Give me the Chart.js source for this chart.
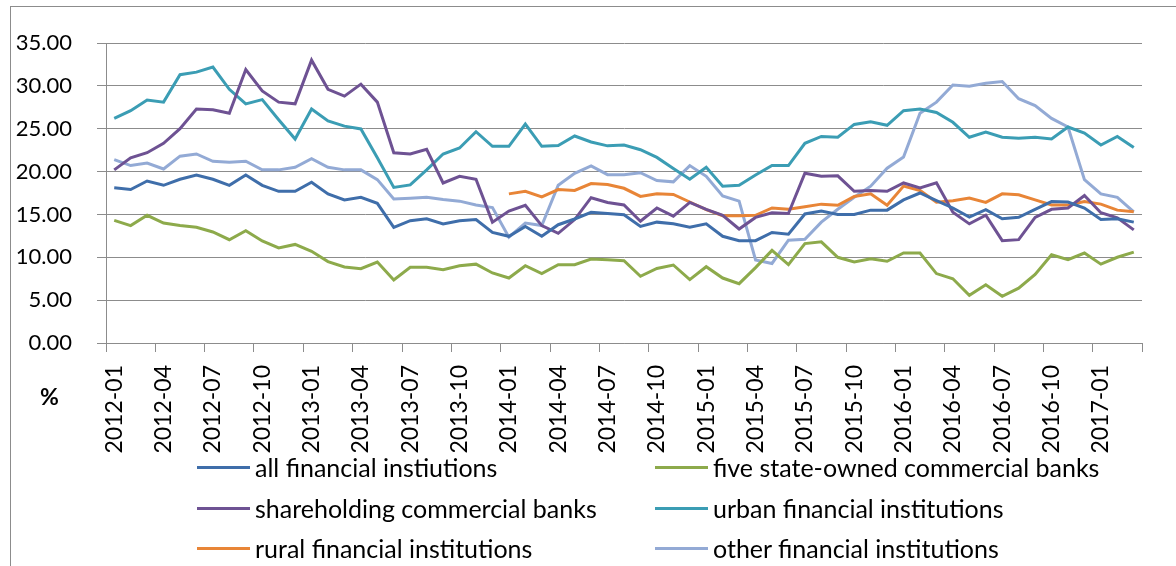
<!DOCTYPE html>
<html>
<head>
<meta charset="utf-8">
<script src="https://cdn.jsdelivr.net/npm/chart.js@4"></script>
<style>
  html, body { margin: 0; padding: 0; background: #fff; overflow: hidden; }
  #wrap { position: relative; width: 1176px; height: 566px; font-family: Lato, sans-serif; }
  #frame { position: absolute; left: 10px; top: 6px; width: 1200px; height: 600px;
           border-left: 1px solid #8c8c8c; border-top: 1px solid #8c8c8c; pointer-events: none; }
  #unit { position: absolute; left: 40px; top: 382px; font-size: 23px; font-weight: bold; color: #000; }
  .lg { position: absolute; display: flex; align-items: center; font-size: 25px; color: #000; white-space: nowrap; }
  .lg span.sw { display: inline-block; width: 53px; height: 3px; margin-right: 5px; }
</style>
</head>
<body>
<div id="wrap">
  <canvas id="myChart" width="1176" height="566"></canvas>
  <div id="frame"></div>
  <div id="unit">%</div>
  <div id="legend"></div>
</div>
<script>
// months 2012-01 .. 2017-03
const labels = [];
for (let y = 2012; y <= 2017; y++) {
    for (let m = 1; m <= 12; m++) {
        if (y === 2017 && m > 3) break;
        labels.push(y + '-' + String(m).padStart(2, '0'));
    }
}

const allFinancial = [18.1, 17.9, 18.9, 18.4, 19.1, 19.6, 19.1, 18.4, 19.6, 18.4, 17.7, 17.7, 18.75, 17.4, 16.7, 17.0, 16.3, 13.5, 14.27, 14.5, 13.9, 14.27, 14.4, 12.9, 12.45, 13.6, 12.45, 13.8, 14.47, 15.25, 15.1, 14.97, 13.6, 14.1, 13.9, 13.5, 13.9, 12.45, 11.94, 11.94, 12.9, 12.7, 15.05, 15.4, 15.0, 15.0, 15.5, 15.5, 16.7, 17.5, 16.6, 15.75, 14.7, 15.56, 14.5, 14.66, 15.6, 16.5, 16.45, 15.75, 14.4, 14.5, 14.1];
const fiveStateOwned = [14.3, 13.7, 14.9, 14.0, 13.7, 13.5, 12.95, 12.05, 13.1, 11.9, 11.1, 11.5, 10.7, 9.5, 8.87, 8.67, 9.45, 7.35, 8.83, 8.83, 8.56, 9.02, 9.2, 8.17, 7.58, 9.02, 8.1, 9.14, 9.14, 9.8, 9.72, 9.6, 7.78, 8.7, 9.1, 7.4, 8.9, 7.58, 6.92, 8.8, 10.8, 9.14, 11.6, 11.8, 10.0, 9.45, 9.84, 9.53, 10.5, 10.5, 8.1, 7.5, 5.56, 6.8, 5.45, 6.4, 8.0, 10.3, 9.72, 10.5, 9.2, 10.0, 10.6];
const shareholding = [20.2, 21.6, 22.2, 23.3, 25.0, 27.3, 27.2, 26.8, 31.9, 29.4, 28.1, 27.9, 33.0, 29.6, 28.8, 30.2, 28.1, 22.2, 22.05, 22.6, 18.67, 19.45, 19.1, 14.1, 15.4, 16.06, 13.7, 12.8, 14.4, 16.95, 16.4, 16.1, 14.2, 15.75, 14.8, 16.4, 15.6, 14.9, 13.3, 14.65, 15.2, 15.1, 19.8, 19.45, 19.5, 17.7, 17.8, 17.7, 18.67, 18.1, 18.7, 15.25, 13.9, 14.9, 11.94, 12.06, 14.66, 15.6, 15.75, 17.2, 15.2, 14.6, 13.2];
const urban = [26.2, 27.1, 28.35, 28.1, 31.3, 31.6, 32.2, 29.6, 27.9, 28.4, 26.05, 23.8, 27.3, 25.9, 25.3, 24.97, 21.6, 18.15, 18.45, 20.2, 22.05, 22.75, 24.65, 22.95, 22.95, 25.55, 22.95, 23.05, 24.15, 23.45, 23.0, 23.1, 22.55, 21.65, 20.35, 19.1, 20.5, 18.3, 18.4, 19.6, 20.7, 20.7, 23.3, 24.1, 24.0, 25.5, 25.8, 25.4, 27.1, 27.3, 26.9, 25.75, 24.0, 24.6, 24.0, 23.9, 24.0, 23.8, 25.2, 24.5, 23.1, 24.1, 22.8];
const rural = [null, null, null, null, null, null, null, null, null, null, null, null, null, null, null, null, null, null, null, null, null, null, null, null, 17.4, 17.7, 17.04, 17.9, 17.8, 18.6, 18.5, 18.05, 17.1, 17.4, 17.33, 16.45, 15.56, 14.86, 14.86, 14.9, 15.75, 15.6, 15.9, 16.2, 16.06, 17.1, 17.4, 16.06, 18.3, 17.8, 16.42, 16.6, 16.9, 16.4, 17.4, 17.3, 16.7, 16.1, 16.1, 16.5, 16.2, 15.5, 15.3];
const other = [21.4, 20.7, 21.0, 20.3, 21.8, 22.05, 21.2, 21.1, 21.2, 20.2, 20.2, 20.5, 21.5, 20.5, 20.2, 20.2, 19.06, 16.8, 16.9, 17.0, 16.75, 16.55, 16.1, 15.8, 12.35, 14.0, 13.7, 18.4, 19.8, 20.65, 19.64, 19.64, 19.87, 18.95, 18.8, 20.7, 19.45, 17.15, 16.55, 9.7, 9.28, 12.0, 12.1, 14.1, 15.6, 17.0, 18.3, 20.4, 21.7, 26.8, 28.1, 30.1, 29.95, 30.3, 30.5, 28.5, 27.7, 26.2, 25.2, 19.06, 17.4, 17.0, 15.3];

const gridGrey = '#8c8c8c';

function line(label, values, color) {
    return {
        label: label,
        data: values,
        borderColor: color,
        backgroundColor: color,
        borderWidth: 3,
        pointRadius: 0,
        tension: 0,
        fill: false
    };
}

const ctx = document.getElementById('myChart');

const chart = new Chart(ctx, {
    type: 'line',
    data: {
        labels: labels,
        datasets: [
            line('all financial instiutions', allFinancial, '#3f6eaa'),
            line('five state-owned commercial banks', fiveStateOwned, '#8daa4b'),
            line('shareholding commercial banks', shareholding, '#6e5293'),
            line('urban financial institutions', urban, '#3b9db4'),
            line('rural financial institutions', rural, '#e88537'),
            line('other financial institutions', other, '#93aad5')
        ]
    },
    options: {
        responsive: false,
        devicePixelRatio: 1,
        animation: false,
        layout: { padding: { left: 0, right: 34, top: 43, bottom: 0 } },
        plugins: {
            legend: { display: false },
            tooltip: { enabled: false }
        },
        scales: {
            x: {
                offset: true,
                afterFit: function (s) { s.height = 223; },
                grid: {
                    offset: true,
                    drawOnChartArea: false,
                    drawTicks: true,
                    tickLength: 9,
                    color: gridGrey,
                    tickColor: function (c) {
                        return (c.type !== 'tick' || c.index % 3 === 0) ? gridGrey : 'rgba(0,0,0,0)';
                    }
                },
                border: { display: true, color: gridGrey },
                ticks: {
                    autoSkip: false,
                    minRotation: 90,
                    maxRotation: 90,
                    padding: 13,
                    color: '#000',
                    font: { family: 'Lato', size: 23 },
                    callback: function (v, i) { return i % 3 === 0 ? labels[i] : ''; }
                }
            },
            y: {
                min: 0,
                max: 35,
                afterFit: function (s) { s.width = 106; },
                grid: { color: gridGrey, tickLength: 9, drawTicks: true },
                border: { display: true, color: gridGrey },
                ticks: {
                    stepSize: 5,
                    padding: 25,
                    color: '#000',
                    font: { family: 'Lato', size: 22 },
                    callback: function (v) { return v.toFixed(2); }
                }
            }
        }
    }
});

// two-column legend under the axis, built from the datasets
const legend = document.getElementById('legend');
const colX = [197, 655];
const rowY = [467, 508, 548];
chart.data.datasets.forEach(function (ds, i) {
    const item = document.createElement('div');
    item.className = 'lg';
    item.style.left = colX[i % 2] + 'px';
    item.style.top = (rowY[Math.floor(i / 2)] - 15) + 'px';
    item.style.height = '30px';
    const sw = document.createElement('span');
    sw.className = 'sw';
    sw.style.background = ds.borderColor;
    item.appendChild(sw);
    item.appendChild(document.createTextNode(ds.label));
    legend.appendChild(item);
});
</script>
</body>
</html>
